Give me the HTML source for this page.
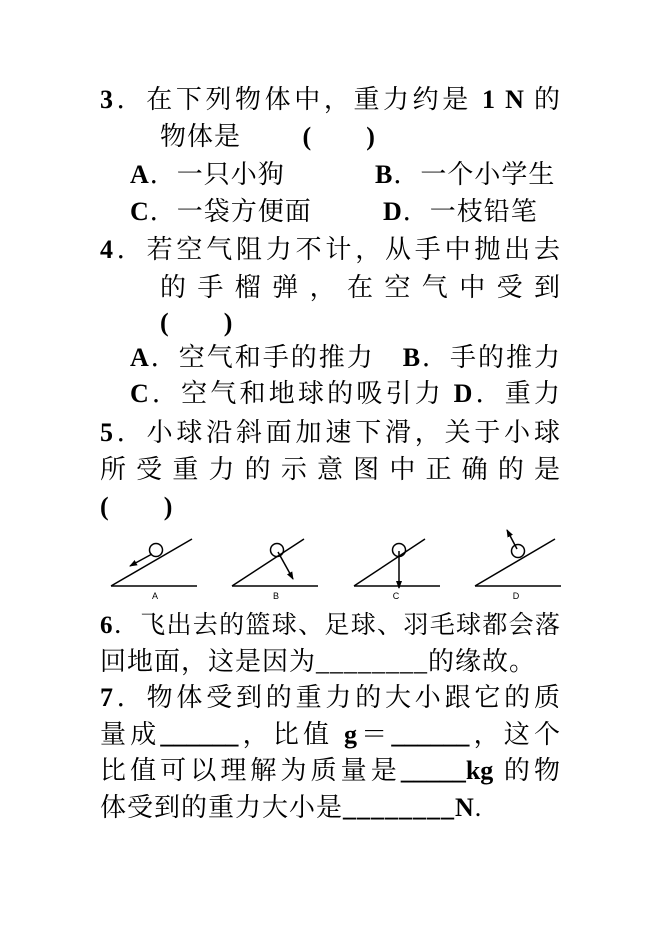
<!DOCTYPE html>
<html><head><meta charset="utf-8"><style>
body{margin:0;background:#fff;width:661px;height:935px;position:relative;overflow:hidden}
.l{position:absolute;height:36px;line-height:36px;font-family:"Liberation Serif","Noto Serif CJK SC",serif;font-size:26px;color:#000;white-space:nowrap;letter-spacing:1px}
.j{text-align:justify;text-align-last:justify;white-space:normal;overflow:hidden;letter-spacing:0}
b{font-weight:bold}
</style></head><body>
<div class="l j" style="left:100px;width:460px;top:82px"><b>3</b>．在下列物体中，重力约是 <b>1 N</b> 的</div>
<div class="l" style="left:160px;top:119px">物体是　　 <b>(</b>　　<b>)</b></div>
<div class="l" style="left:130px;top:157px"><b>A</b>．一只小狗</div>
<div class="l" style="left:375px;top:157px"><b>B</b>．一个小学生</div>
<div class="l" style="left:130px;top:194px"><b>C</b>．一袋方便面</div>
<div class="l" style="left:383px;top:194px"><b>D</b>．一枝铅笔</div>
<div class="l j" style="left:100px;width:460px;top:232px"><b>4</b>．若空气阻力不计，从手中抛出去</div>
<div class="l j" style="left:160px;width:400px;top:270px">的手榴弹，在空气中受到</div>
<div class="l" style="left:160px;top:305px"><b>(</b>　　<b>)</b></div>
<div class="l j" style="left:130px;width:430px;top:340px"><b>A</b>．空气和手的推力　<b>B</b>．手的推力</div>
<div class="l j" style="left:130px;width:430px;top:376px"><b>C</b>．空气和地球的吸引力 <b>D</b>．重力</div>
<div class="l j" style="left:100px;width:460px;top:415px"><b>5</b>．小球沿斜面加速下滑，关于小球</div>
<div class="l j" style="left:100px;width:460px;top:452px">所受重力的示意图中正确的是</div>
<div class="l" style="left:100px;top:489px"><b>(</b>　　<b>)</b></div>
<svg style="position:absolute;left:0;top:0" width="661" height="935">
<defs><marker id="a" markerWidth="8" markerHeight="8" refX="7" refY="4" orient="auto" markerUnits="userSpaceOnUse"><path d="M0,1 L8,4 L0,7 Z" fill="#000"/></marker></defs>
<g stroke="#000" stroke-width="1.5" fill="none">
<line x1="111" y1="586" x2="197" y2="586"/><line x1="111" y1="586" x2="192" y2="539"/><circle cx="156" cy="550" r="6.5"/><line x1="152" y1="554" x2="130" y2="566" marker-end="url(#a)"/>
<line x1="232" y1="586" x2="318" y2="586"/><line x1="232" y1="586" x2="304" y2="539"/><circle cx="277" cy="550" r="6.5"/><line x1="278" y1="552" x2="293" y2="579" marker-end="url(#a)"/>
<line x1="354" y1="586" x2="440" y2="586"/><line x1="354" y1="586" x2="425" y2="539"/><circle cx="399" cy="550" r="6.5"/><line x1="399" y1="551" x2="399" y2="588" marker-end="url(#a)"/>
<line x1="475" y1="586" x2="561" y2="586"/><line x1="475" y1="586" x2="555" y2="539"/><circle cx="518" cy="551" r="6.5"/><line x1="517" y1="549" x2="507" y2="530" marker-end="url(#a)"/>
</g>
<g font-family="Liberation Sans,sans-serif" font-size="9" text-anchor="middle"><text x="155" y="599">A</text><text x="276" y="599">B</text><text x="396" y="599">C</text><text x="516" y="599">D</text></g>
</svg>
<div class="l j" style="left:100px;width:460px;top:608px;font-size:25px"><b>6</b>．飞出去的篮球、足球、羽毛球都会落</div>
<div class="l" style="left:100px;top:644px">回地面，这是因为________的缘故。</div>
<div class="l j" style="left:100px;width:460px;top:680px"><b>7</b>．物体受到的重力的大小跟它的质</div>
<div class="l j" style="left:100px;width:460px;top:717px">量成<b>______</b>，比值 <b>g</b>＝<b>______</b>，这个</div>
<div class="l j" style="left:100px;width:460px;top:753px">比值可以理解为质量是<b>_____kg</b> 的物</div>
<div class="l" style="left:100px;top:790px">体受到的重力大小是<b>________N</b>.</div>
</body></html>
